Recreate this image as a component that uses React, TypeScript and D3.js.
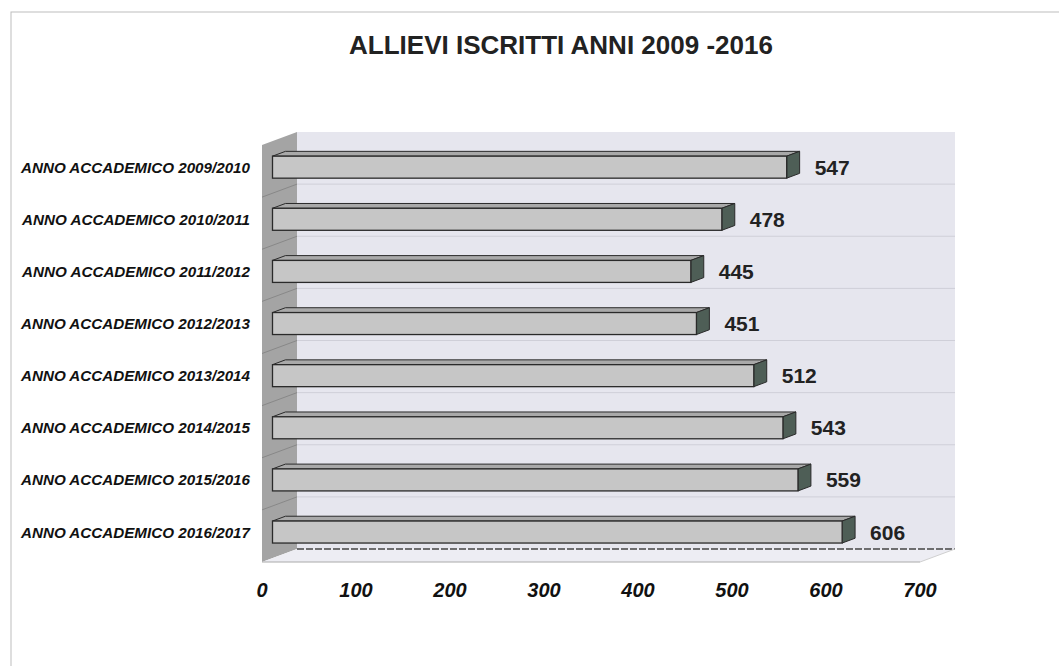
import React from "react";
import * as d3 from "d3";

const categories = [
  "ANNO ACCADEMICO 2009/2010",
  "ANNO ACCADEMICO 2010/2011",
  "ANNO ACCADEMICO 2011/2012",
  "ANNO ACCADEMICO 2012/2013",
  "ANNO ACCADEMICO 2013/2014",
  "ANNO ACCADEMICO 2014/2015",
  "ANNO ACCADEMICO 2015/2016",
  "ANNO ACCADEMICO 2016/2017",
];
const values = [547, 478, 445, 451, 512, 543, 559, 606];
const xTicks = [0, 100, 200, 300, 400, 500, 600, 700];
const title = "ALLIEVI ISCRITTI ANNI 2009 -2016";

const W = 1059;
const H = 666;
const FONT = "'Liberation Sans', Arial, Helvetica, sans-serif";

export default function App() {
  const x = d3.scaleLinear().domain([0, 700]).range([262, 920]);
  const y = d3.scaleBand<string>().domain(categories).range([145, 562]).paddingInner(0).paddingOuter(0);
  const DX = 35;
  const DY = -13;
  const d0 = 0.3;
  const d1 = 0.67;
  const ox0 = d0 * DX;
  const oy0 = d0 * DY;
  const ddx = (d1 - d0) * DX;
  const ddy = (d1 - d0) * DY;
  const halfBar = 11;

  const xL = x(0);
  const xR = x(700);
  const yT = 145;
  const yB = 562;
  const pts = (arr: [number, number][]) => arr.map((p) => p.join(",")).join(" ");

  const boundaries = d3.range(1, categories.length).map((i) => yT + i * y.step());

  return (
    <svg
      width={W}
      height={H}
      style={{ position: "absolute", left: 0, top: 0, display: "block", background: "#fff" }}
      fontFamily={FONT}
    >
      <rect x={11} y={12} width={W} height={H} fill="none" stroke="#bdbdbd" strokeWidth={1} />
      <text x={561} y={54} textAnchor="middle" fontSize={26} fontWeight="bold" fill="#222">
        {title}
      </text>

      {/* back wall */}
      <polygon
        points={pts([
          [xL + DX, yT + DY],
          [xR + DX, yT + DY],
          [xR + DX, yB + DY],
          [xL + DX, yB + DY],
        ])}
        fill="#e6e6ee"
      />
      {/* left wall */}
      <polygon
        points={pts([
          [xL, yT],
          [xL + DX, yT + DY],
          [xL + DX, yB + DY],
          [xL, yB],
        ])}
        fill="#a4a4a4"
      />
      {/* floor */}
      <polygon
        points={pts([
          [xL, yB],
          [xL + DX, yB + DY],
          [xR + DX, yB + DY],
          [xR, yB],
        ])}
        fill="#ededf3"
      />
      <line x1={xL + DX} x2={xR + DX} y1={yB + DY} y2={yB + DY} stroke="#444" strokeWidth={1.3} strokeDasharray="7 2" />
      <line x1={xL} x2={xR} y1={yB} y2={yB} stroke="#aaaaaa" strokeWidth={1} />
      <line x1={xR} x2={xR + DX} y1={yB} y2={yB + DY} stroke="#d0d0d0" strokeWidth={1} />

      {boundaries.map((b, i) => (
        <g key={"g" + i}>
          <line x1={xL + DX} x2={xR + DX} y1={b + DY} y2={b + DY} stroke="#cfcfd8" strokeWidth={1} />
          <line x1={xL} x2={xL + DX} y1={b} y2={b + DY} stroke="#888" strokeWidth={1} />
        </g>
      ))}

      {categories.map((c, i) => {
        const v = values[i];
        const yc = (y(c) as number) + y.bandwidth() / 2 + oy0;
        const x0 = x(0) + ox0;
        const x1 = x(v) + ox0;
        const yt = yc - halfBar;
        const yb = yc + halfBar;
        return (
          <g key={c}>
            <polygon
              points={pts([
                [x0, yt],
                [x0 + ddx, yt + ddy],
                [x1 + ddx, yt + ddy],
                [x1, yt],
              ])}
              fill="#a9a9a9"
              stroke="#2a2a2a"
              strokeWidth={1}
              strokeLinejoin="round"
            />
            <polygon
              points={pts([
                [x1, yt],
                [x1 + ddx, yt + ddy],
                [x1 + ddx, yb + ddy],
                [x1, yb],
              ])}
              fill="#4e5e56"
              stroke="#2a2a2a"
              strokeWidth={1}
              strokeLinejoin="round"
            />
            <rect x={x0} y={yt} width={x1 - x0} height={yb - yt} fill="#c6c6c6" stroke="#2a2a2a" strokeWidth={1.3} />
            <text x={x1 + ddx + 15} y={yc + 7.5} fontSize={21} fontWeight="bold" fill="#222">
              {v}
            </text>
            <text
              x={250}
              y={(y(c) as number) + y.bandwidth() / 2 + oy0 + 5.5}
              textAnchor="end"
              fontSize={15.2}
              fontWeight="bold"
              fontStyle="italic"
              fill="#111"
            >
              {c}
            </text>
          </g>
        );
      })}

      {xTicks.map((t) => (
        <text
          key={t}
          x={x(t)}
          y={597}
          textAnchor="middle"
          fontSize={20}
          fontWeight="bold"
          fontStyle="italic"
          fill="#111"
        >
          {t}
        </text>
      ))}
    </svg>
  );
}
